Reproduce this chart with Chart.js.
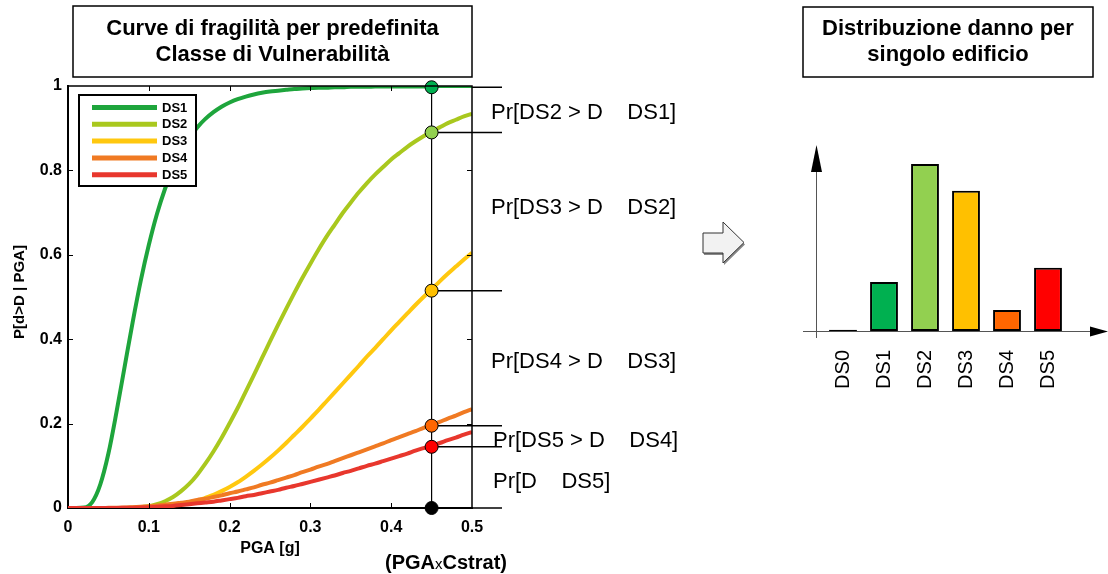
<!DOCTYPE html>
<html><head><meta charset="utf-8">
<script src="https://cdn.jsdelivr.net/npm/chart.js@4.4.1/dist/chart.umd.min.js"></script>
<style>
html,body{margin:0;padding:0;background:#fff;}
#wrap{position:relative;width:1108px;height:574px;overflow:hidden;background:#fff;}
#c1{position:absolute;left:0;top:0;}
#c2{position:absolute;left:790px;top:0;}
</style></head><body>
<div id="wrap"><canvas id="c1" width="760" height="574"></canvas><canvas id="c2" width="318" height="420"></canvas></div>
<script>
const FONT = 'Arial, "Liberation Sans", Helvetica, sans-serif';

// PGA grid [g]
const pga = [0,0.01,0.02,0.03,0.04,0.05,0.06,0.07,0.08,0.09,
  0.10,0.11,0.12,0.13,0.14,0.15,0.16,0.17,0.18,0.19,
  0.20,0.21,0.22,0.23,0.24,0.25,0.26,0.27,0.28,0.29,
  0.30,0.31,0.32,0.33,0.34,0.35,0.36,0.37,0.38,0.39,
  0.40,0.41,0.42,0.43,0.44,0.45,0.46,0.47,0.48,0.49,0.50];

// P[d>D | PGA]
const ds1 = [0,0,0.001,0.014,0.056,0.129,0.227,0.334,0.44,0.538,
  0.623,0.696,0.756,0.805,0.845,0.877,0.902,0.922,0.938,0.951,
  0.961,0.969,0.975,0.980,0.984,0.987,0.989,0.991,0.993,0.994,
  0.995,0.996,0.996,0.997,0.997,0.998,0.998,0.998,0.999,0.999,
  0.999,0.999,0.999,0.999,0.999,1,1,1,1,1,1];
const ds2 = [0,0,0,0,0,0,0,0.0002,0.0007,0.002,
  0.004,0.009,0.016,0.026,0.040,0.057,0.079,0.105,0.134,0.166,
  0.201,0.237,0.276,0.315,0.355,0.395,0.434,0.472,0.509,0.545,
  0.579,0.612,0.643,0.671,0.699,0.724,0.748,0.770,0.790,0.808,
  0.826,0.841,0.856,0.869,0.881,0.892,0.902,0.912,0.920,0.928,0.934];
const ds3 = [0,0,0,0,0,0,0,0,0,0.0005,
  0.001,0.002,0.003,0.006,0.008,0.012,0.017,0.024,0.031,0.040,
  0.050,0.061,0.074,0.088,0.103,0.119,0.136,0.154,0.173,0.192,
  0.212,0.232,0.253,0.274,0.295,0.316,0.337,0.359,0.379,0.400,
  0.421,0.441,0.461,0.481,0.500,0.518,0.537,0.555,0.572,0.589,0.605];
const ds4 = [0,0,0,0,0,0.0003,0.0006,0.001,0.002,0.003,
  0.004,0.006,0.008,0.010,0.0125,0.015,0.019,0.022,0.026,0.030,
  0.035,0.039,0.044,0.049,0.055,0.060,0.066,0.072,0.078,0.085,
  0.091,0.098,0.104,0.111,0.118,0.125,0.132,0.139,0.146,0.153,
  0.161,0.168,0.175,0.182,0.190,0.197,0.204,0.212,0.219,0.227,0.234];
const ds5 = [0,0,0,0,0,0,0.0002,0.0005,0.0008,0.0013,
  0.002,0.003,0.004,0.005,0.007,0.009,0.011,0.013,0.015,0.018,
  0.021,0.024,0.028,0.031,0.035,0.039,0.043,0.048,0.052,0.057,
  0.062,0.067,0.072,0.077,0.083,0.088,0.094,0.100,0.105,0.111,
  0.117,0.123,0.129,0.136,0.142,0.148,0.154,0.161,0.167,0.174,0.180];

const seriesNames = ['DS1','DS2','DS3','DS4','DS5'];
const seriesValues = [ds1, ds2, ds3, ds4, ds5];
const curveColors = ['#1EA53C','#A9C81E','#FFC80F','#F07A23','#E8372D'];

// Points read at the chosen PGA
const markerPGA = 0.45;
const markerLevels = [0.997, 0.89, 0.515, 0.195, 0.145, 0];
const markerColors = ['#00B050','#92D050','#FFC000','#FF6600','#FF0000','#000000'];

const annotationTexts = ['Pr[DS2 > D    DS1]','Pr[DS3 > D    DS2]','Pr[DS4 > D    DS3]','Pr[DS5 > D    DS4]','Pr[D    DS5]'];

// Damage distribution for the single building
const barLabels = ['DS0','DS1','DS2','DS3','DS4','DS5'];
const barValues = [0.003, 0.11, 0.375, 0.315, 0.047, 0.142];
const barColors = ['#000000','#00B050','#92D050','#FFC000','#FF6600','#FF0000'];

function txt(ctx, s, x, y, font, align, base, color){
  ctx.font = font; ctx.textAlign = align || 'left'; ctx.textBaseline = base || 'middle';
  ctx.fillStyle = color || '#000'; ctx.fillText(s, x, y);
}
const fmt = v => String(Number(Number(v).toFixed(2)));

const fragPlugin = {
  id: 'frag',
  beforeDatasetsDraw(chart){
    const {ctx, chartArea: a, scales: {x, y}} = chart;
    ctx.save();
    ctx.strokeStyle = '#000';
    const mx = x.getPixelForValue(markerPGA);
    ctx.lineWidth = 1.2;
    ctx.beginPath(); ctx.moveTo(mx, y.getPixelForValue(1)); ctx.lineTo(mx, y.getPixelForValue(0)); ctx.stroke();
    ctx.lineWidth = 1.5;
    markerLevels.forEach(v => {
      const py = y.getPixelForValue(v);
      ctx.beginPath(); ctx.moveTo(mx, py); ctx.lineTo(a.right + 30, py); ctx.stroke();
    });
    ctx.restore();
  },
  afterDatasetsDraw(chart){
    const ctx = chart.ctx;
    ctx.save();
    const lx = 79, ly = 95, lw = 117, lh = 91;
    ctx.fillStyle = '#fff'; ctx.fillRect(lx, ly, lw, lh);
    ctx.lineWidth = 2; ctx.strokeStyle = '#000'; ctx.strokeRect(lx, ly, lw, lh);
    chart.data.datasets.filter(d => d.isSeries).forEach((d, i) => {
      const yy = 107.5 + i * 16.8;
      ctx.strokeStyle = d.borderColor; ctx.lineWidth = 5; ctx.lineCap = 'butt';
      ctx.beginPath(); ctx.moveTo(92, yy); ctx.lineTo(157, yy); ctx.stroke();
      txt(ctx, d.label, 162, yy + 0.5, 'bold 13px ' + FONT, 'left', 'middle');
    });
    ctx.restore();
  },
  afterDraw(chart){
    const {ctx, chartArea: a, scales: {x, y}} = chart;
    ctx.save();
    // frame top/right
    ctx.strokeStyle = '#000'; ctx.lineWidth = 1.5;
    ctx.beginPath(); ctx.moveTo(a.left, a.top); ctx.lineTo(a.right, a.top); ctx.lineTo(a.right, a.bottom); ctx.stroke();
    // inward ticks
    ctx.lineWidth = 1;
    const tl = 5;
    y.ticks.forEach(t => {
      if (t.value <= 0 || t.value >= 1) return;
      const py = Math.round(y.getPixelForValue(t.value)) + 0.5;
      ctx.beginPath(); ctx.moveTo(a.left, py); ctx.lineTo(a.left + tl, py); ctx.stroke();
      ctx.beginPath(); ctx.moveTo(a.right, py); ctx.lineTo(a.right - tl, py); ctx.stroke();
    });
    x.ticks.forEach(t => {
      if (t.value <= 0 || t.value >= 0.5) return;
      const px = Math.round(x.getPixelForValue(t.value)) + 0.5;
      ctx.beginPath(); ctx.moveTo(px, a.bottom); ctx.lineTo(px, a.bottom - tl); ctx.stroke();
      ctx.beginPath(); ctx.moveTo(px, a.top); ctx.lineTo(px, a.top + tl); ctx.stroke();
    });
    // title box
    ctx.lineWidth = 1.5; ctx.strokeStyle = '#000';
    ctx.strokeRect(73, 6, 399, 71);
    txt(ctx, 'Curve di fragilità per predefinita', 272.5, 29, 'bold 22px ' + FONT, 'center');
    txt(ctx, 'Classe di Vulnerabilità', 272.5, 55, 'bold 22px ' + FONT, 'center');
    // axis titles
    ctx.save(); ctx.translate(20, 292); ctx.rotate(-Math.PI / 2);
    txt(ctx, 'P[d>D | PGA]', 0, 0, 'bold 15px ' + FONT, 'center');
    ctx.restore();
    txt(ctx, 'PGA [g]', 270, 549, 'bold 16px ' + FONT, 'center');
    let cx = 385; const by = 569;
    [['(PGA', 'bold 20px '], ['x', '15px '], ['Cstrat)', 'bold 20px ']].forEach(p => {
      ctx.font = p[1] + FONT; ctx.textAlign = 'left'; ctx.textBaseline = 'alphabetic'; ctx.fillStyle = '#000';
      ctx.fillText(p[0], cx, by); cx += ctx.measureText(p[0]).width;
    });
    // annotations
    const ay = [113, 208, 362, 441, 482], ax = [491, 491, 491, 493, 493];
    annotationTexts.forEach((s, i) => txt(ctx, s, ax[i], ay[i], '22px ' + FONT, 'left'));
    // block arrow
    ctx.beginPath();
    ctx.moveTo(703, 233); ctx.lineTo(723, 233); ctx.lineTo(723, 222); ctx.lineTo(744, 242.5);
    ctx.lineTo(723, 263); ctx.lineTo(723, 253); ctx.lineTo(703, 253); ctx.closePath();
    ctx.shadowColor = '#888'; ctx.shadowOffsetX = 1; ctx.shadowOffsetY = 2; ctx.shadowBlur = 0;
    ctx.fillStyle = '#F2F2F2'; ctx.fill();
    ctx.shadowColor = 'transparent';
    ctx.lineWidth = 1; ctx.strokeStyle = '#333'; ctx.stroke();
    ctx.restore();
  }
};

const datasets = seriesNames.map((n, i) => ({
  label: n, isSeries: true,
  data: pga.map((p, k) => ({x: p, y: seriesValues[i][k]})),
  borderColor: curveColors[i], backgroundColor: curveColors[i],
  borderWidth: 4, pointRadius: 0, fill: false,
  cubicInterpolationMode: 'monotone', order: 5 - i + 1
}));
datasets.push({
  label: 'markers', isSeries: false,
  data: markerLevels.map(v => ({x: markerPGA, y: v})),
  showLine: false, pointRadius: 6.5, pointHoverRadius: 6.5,
  pointBackgroundColor: markerColors, pointBorderColor: '#000', pointBorderWidth: 1,
  clip: false, order: 0
});

new Chart(document.getElementById('c1'), {
  type: 'line',
  data: {datasets},
  options: {
    responsive: false, animation: false, devicePixelRatio: 1,
    layout: {padding: {left: 0, top: 86, right: 288, bottom: 0}},
    plugins: {legend: {display: false}, tooltip: {enabled: false}, title: {display: false}},
    scales: {
      x: {type: 'linear', min: 0, max: 0.5,
        ticks: {stepSize: 0.1, color: '#000', padding: 10, maxRotation: 0, font: {family: FONT, size: 16, weight: 'bold'}, callback: fmt},
        grid: {display: false, drawTicks: false}, border: {display: true, color: '#000', width: 2},
        afterFit: s => { s.height = 66; }},
      y: {min: 0, max: 1,
        ticks: {stepSize: 0.2, color: '#000', padding: 6, font: {family: FONT, size: 16, weight: 'bold'}, callback: fmt},
        grid: {display: false, drawTicks: false}, border: {display: true, color: '#000', width: 2},
        afterFit: s => { s.width = 68; }}
    }
  },
  plugins: [fragPlugin]
});

const barPlugin = {
  id: 'bars',
  beforeDatasetsDraw(chart){
    const ctx = chart.ctx; const y0 = chart.scales.y.getPixelForValue(0);
    ctx.save();
    ctx.strokeStyle = '#555'; ctx.lineWidth = 1; ctx.fillStyle = '#000';
    const vx = 26.5;
    ctx.beginPath(); ctx.moveTo(vx, y0 + 7); ctx.lineTo(vx, 170); ctx.stroke();
    ctx.beginPath(); ctx.moveTo(vx - 5.5, 172); ctx.lineTo(vx + 5.5, 172); ctx.lineTo(vx, 145); ctx.closePath(); ctx.fill();
    const hy = Math.round(y0) + 0.5;
    ctx.beginPath(); ctx.moveTo(13, hy); ctx.lineTo(302, hy); ctx.stroke();
    ctx.beginPath(); ctx.moveTo(300, hy - 5); ctx.lineTo(300, hy + 5); ctx.lineTo(318, hy); ctx.closePath(); ctx.fill();
    ctx.restore();
  },
  afterDraw(chart){
    const ctx = chart.ctx;
    ctx.save();
    ctx.lineWidth = 1.5; ctx.strokeStyle = '#000';
    ctx.strokeRect(13, 7, 290, 70);
    txt(ctx, 'Distribuzione danno per', 158, 29, 'bold 22px ' + FONT, 'center');
    txt(ctx, 'singolo edificio', 158, 55, 'bold 22px ' + FONT, 'center');
    ctx.restore();
  }
};

new Chart(document.getElementById('c2'), {
  type: 'bar',
  data: {labels: barLabels, datasets: [{data: barValues, backgroundColor: barColors, borderColor: '#000', borderWidth: 2, borderSkipped: false, barPercentage: 0.68, categoryPercentage: 1}]},
  options: {
    responsive: false, animation: false, devicePixelRatio: 1,
    layout: {padding: {left: 32.5, top: 144, right: 39.5, bottom: 0}},
    plugins: {legend: {display: false}, tooltip: {enabled: false}},
    scales: {
      x: {grid: {display: false, drawTicks: false}, border: {display: false},
        ticks: {minRotation: 90, maxRotation: 90, autoSkip: false, padding: 19, color: '#000', font: {family: FONT, size: 20}},
        afterFit: s => { s.height = 89; }},
      y: {display: false, min: 0, max: 0.42}
    }
  },
  plugins: [barPlugin]
});
</script>
</body></html>
